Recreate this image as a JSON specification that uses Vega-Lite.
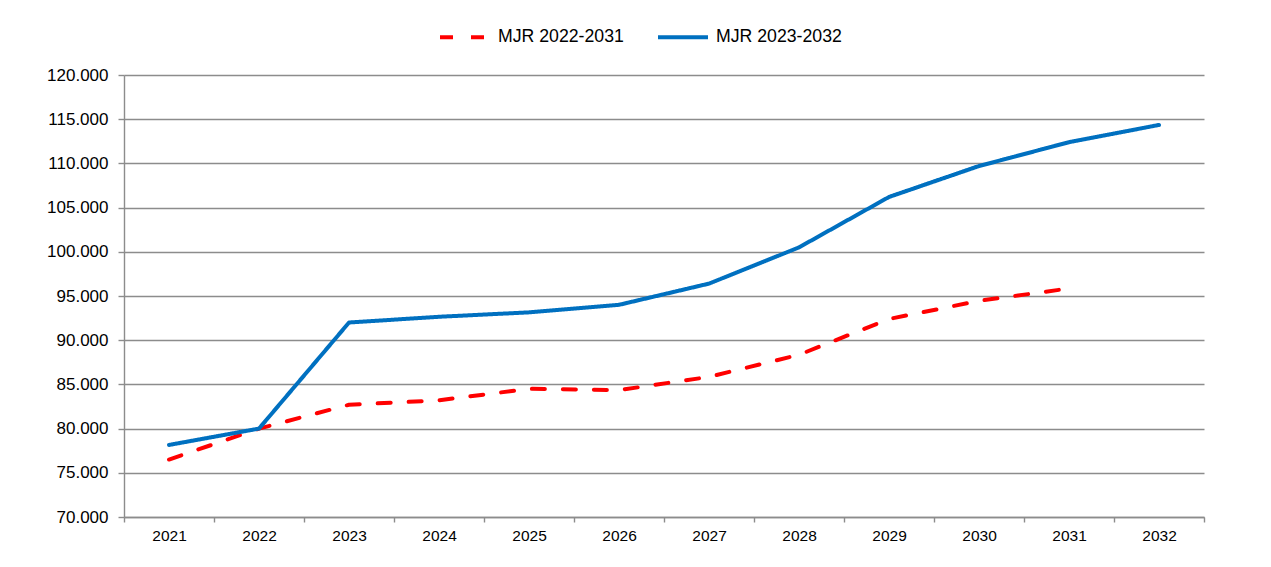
{
  "$schema": "https://vega.github.io/schema/vega-lite/v6.json",
  "width": 1080,
  "height": 442,
  "autosize": {"type": "none"},
  "padding": {"left": 124, "top": 75, "right": 67, "bottom": 50},
  "background": "white",
  "config": {"view": {"stroke": null}, "font": "Liberation Sans"},
  "data": {
    "values": [
      {"year": "2021", "series": "MJR 2022-2031", "value": 76500},
      {"year": "2022", "series": "MJR 2022-2031", "value": 80000},
      {"year": "2023", "series": "MJR 2022-2031", "value": 82700},
      {"year": "2024", "series": "MJR 2022-2031", "value": 83200},
      {"year": "2025", "series": "MJR 2022-2031", "value": 84500},
      {"year": "2026", "series": "MJR 2022-2031", "value": 84350},
      {"year": "2027", "series": "MJR 2022-2031", "value": 85850},
      {"year": "2028", "series": "MJR 2022-2031", "value": 88350},
      {"year": "2029", "series": "MJR 2022-2031", "value": 92400},
      {"year": "2030", "series": "MJR 2022-2031", "value": 94450},
      {"year": "2031", "series": "MJR 2022-2031", "value": 95850},
      {"year": "2021", "series": "MJR 2023-2032", "value": 78150},
      {"year": "2022", "series": "MJR 2023-2032", "value": 80000},
      {"year": "2023", "series": "MJR 2023-2032", "value": 92000},
      {"year": "2024", "series": "MJR 2023-2032", "value": 92650},
      {"year": "2025", "series": "MJR 2023-2032", "value": 93150},
      {"year": "2026", "series": "MJR 2023-2032", "value": 94000},
      {"year": "2027", "series": "MJR 2023-2032", "value": 96400},
      {"year": "2028", "series": "MJR 2023-2032", "value": 100500},
      {"year": "2029", "series": "MJR 2023-2032", "value": 106200},
      {"year": "2030", "series": "MJR 2023-2032", "value": 109700},
      {"year": "2031", "series": "MJR 2023-2032", "value": 112400},
      {"year": "2032", "series": "MJR 2023-2032", "value": 114350}
    ]
  },
  "mark": {"type": "line", "strokeWidth": 4, "strokeCap": "round", "strokeJoin": "round"},
  "encoding": {
    "x": {
      "field": "year",
      "type": "ordinal",
      "scale": {"type": "band", "paddingInner": 0, "paddingOuter": 0},
      "axis": {
        "title": null,
        "tickBand": "extent",
        "grid": false,
        "domainColor": "#8c8c8c",
        "domainWidth": 1.4,
        "tickColor": "#8c8c8c",
        "tickWidth": 1.4,
        "tickSize": 5,
        "labelFontSize": 15.5,
        "labelFont": "Liberation Sans",
        "labelColor": "#000000",
        "labelAngle": 0,
        "labelPadding": 6
      }
    },
    "y": {
      "field": "value",
      "type": "quantitative",
      "scale": {"domain": [70000, 120000], "nice": false, "zero": false},
      "axis": {
        "title": null,
        "values": [70000, 75000, 80000, 85000, 90000, 95000, 100000, 105000, 110000, 115000, 120000],
        "grid": true,
        "gridColor": "#8c8c8c",
        "gridWidth": 1.4,
        "domainColor": "#8c8c8c",
        "domainWidth": 1.4,
        "tickColor": "#8c8c8c",
        "tickWidth": 1.4,
        "tickSize": 6,
        "labelFontSize": 17,
        "labelFont": "Liberation Sans",
        "labelColor": "#000000",
        "labelPadding": 10,
        "labelExpr": "replace(format(datum.value, ','), ',', '.')"
      }
    },
    "color": {
      "field": "series",
      "type": "nominal",
      "scale": {"domain": ["MJR 2022-2031", "MJR 2023-2032"], "range": ["#FF0000", "#0070C0"]},
      "legend": {
        "title": null,
        "orient": "none",
        "direction": "horizontal",
        "legendX": 314,
        "legendY": -65,
        "symbolType": "stroke",
        "symbolSize": 2500,
        "symbolStrokeWidth": 4,
        "labelFontSize": 17.7,
        "labelFont": "Liberation Sans",
        "labelColor": "#000000",
        "labelOffset": 6,
        "columnPadding": 26,
        "padding": 0
      }
    },
    "strokeDash": {
      "field": "series",
      "type": "nominal",
      "scale": {"domain": ["MJR 2022-2031", "MJR 2023-2032"], "range": [[13, 18], [1, 0]]}
    }
  }
}
